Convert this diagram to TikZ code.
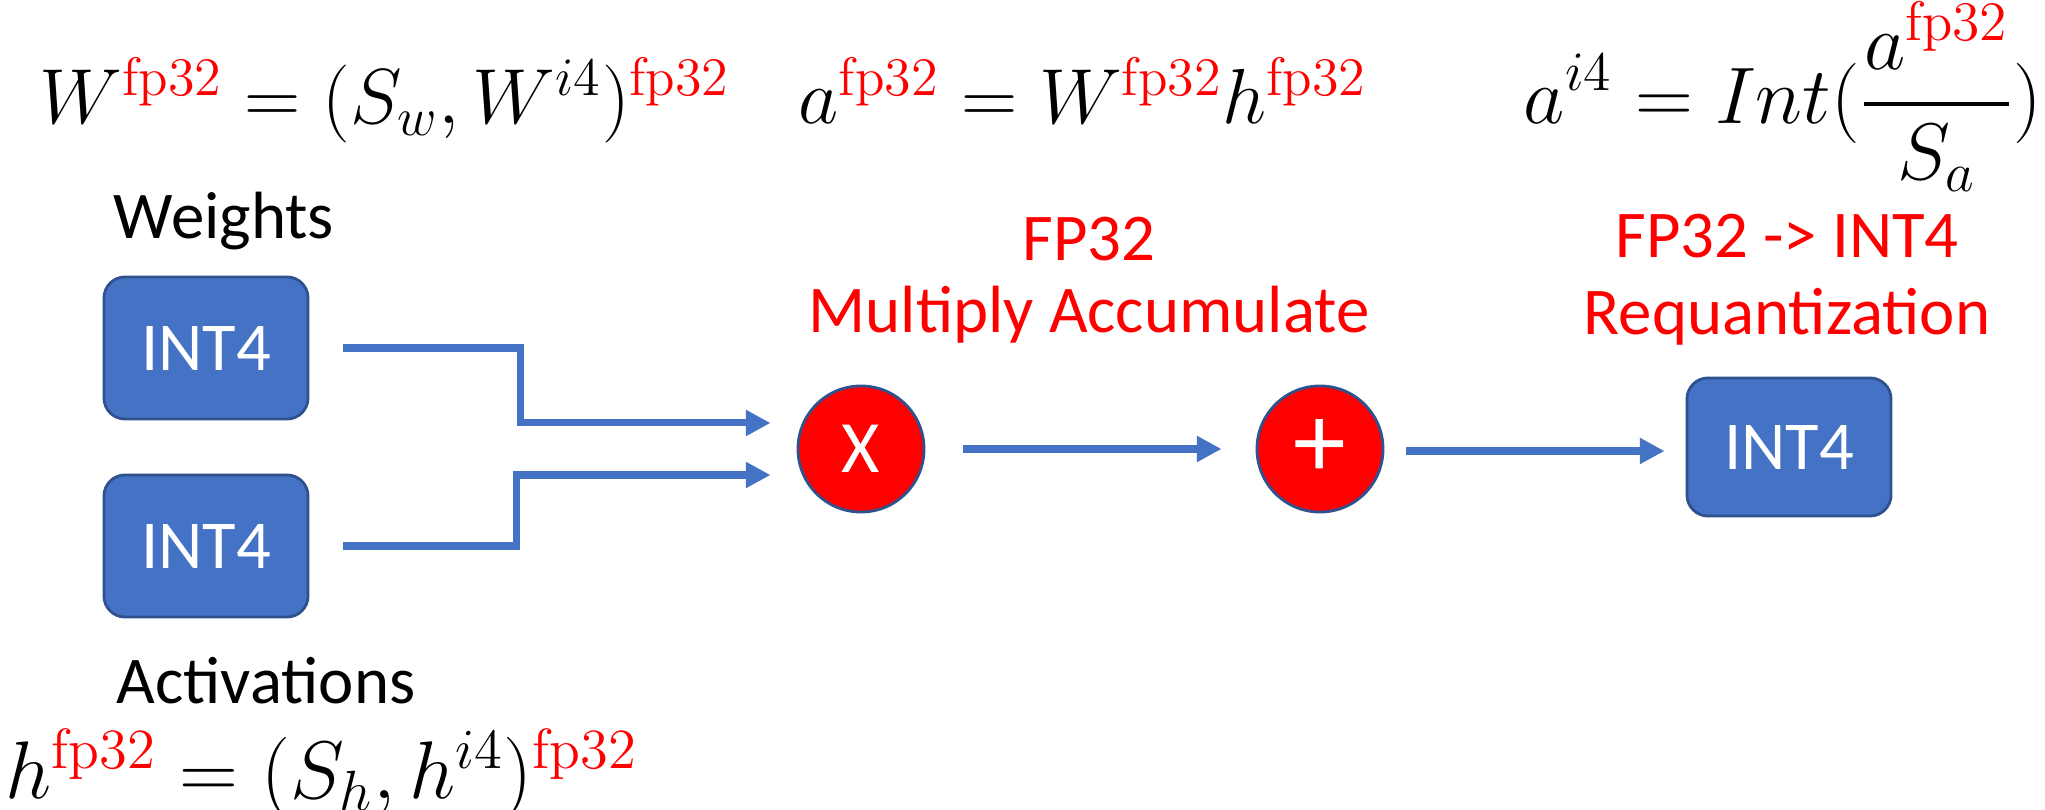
\documentclass[tikz,border=0pt]{standalone}
\usepackage{amsmath}
\usepackage{fontspec}
\newfontfamily\calib{Carlito}
\usetikzlibrary{arrows.meta}
\definecolor{boxblue}{HTML}{4472C4}
\definecolor{boxedge}{HTML}{2F528F}
\newcommand{\fp}{{\color{red}\mathrm{fp32}}}
\begin{document}
\begin{tikzpicture}[x=0.01cm,y=-0.01cm,
  intbox/.style={draw=boxedge, line width=0.8pt, fill=boxblue, rounded corners=6pt,
    minimum width=2.04cm, minimum height=1.42cm, inner sep=0pt,
    text=white, font=\calib\fontsize{19.5}{23}\selectfont},
  opnode/.style={circle, draw=boxedge, line width=0.8pt, fill=red, minimum size=1.26cm,
    inner sep=0pt, text=white, font=\calib\fontsize{21}{24}\selectfont},
  lbl/.style={font=\calib\fontsize{19}{23}\selectfont, inner sep=0pt},
  redlbl/.style={lbl, text=red},
  eq/.style={font=\fontsize{20.74}{25}\selectfont, inner sep=0pt, anchor=base west},
  conn/.style={draw=boxblue, line width=2pt, -{Triangle[width=7pt,length=7pt]}}]
\useasboundingbox (0,0) rectangle (2045,810);

% equations
\node[eq, scale=1.07] (eqw) at (39,124) {$W^{\fp}=(S_w,W^{i4})^{\fp}$};
\node[eq, scale=1.07] (eqa) at (798,124) {$a^{\fp}=W^{\fp}h^{\fp}$};
\node[eq, scale=1.1] (eqq) at (1523,124) {$\displaystyle a^{i4}=Int(\frac{a^{\fp}}{S_a})$};
\node[eq, scale=1.12] (eqh) at (5,798) {$h^{\fp}=(S_h,h^{i4})^{\fp}$};

% labels
\node[lbl, anchor=base] (wl) at (224,239) {Weights};
\node[lbl, anchor=base] (al) at (266,704) {Activations};
\node[redlbl, anchor=base] (fp1) at (1089,261) {FP32};
\node[redlbl, anchor=base] (mac) at (1089,333) {Multiply Accumulate};
\node[redlbl, anchor=base] (fp2) at (1787,258) {FP32 -> INT4};
\node[redlbl, anchor=base] (req) at (1787,335) {Requantization};

% nodes
\node[intbox] (w) at (206,348) {INT4};
\node[intbox] (a) at (206,546) {INT4};
\node[opnode] (mul) at (861,449) {X};
\node[opnode, font=\calib\fontsize{30}{32}\selectfont] (add) at (1320,449) {+};
\node[intbox, minimum height=1.38cm] (out) at (1789,447) {INT4};

% connectors
\draw[conn] ([xshift=3.4mm]w.east) -- ++(177,0) |- ([xshift=-2.6mm,yshift=2.6mm]mul.west);
\draw[conn] ([xshift=3.4mm]a.east) -- ++(173,0) |- ([xshift=-2.6mm,yshift=-2.6mm]mul.west);
\draw[conn] ([xshift=3.8mm]mul.east) -- ([xshift=-3.4mm]add.west);
\draw[conn] ([xshift=2.2mm,yshift=-0.2mm]add.east) -- ([xshift=-2.1mm,yshift=-0.2mm]add.east -| out.west);
\end{tikzpicture}
\end{document}
